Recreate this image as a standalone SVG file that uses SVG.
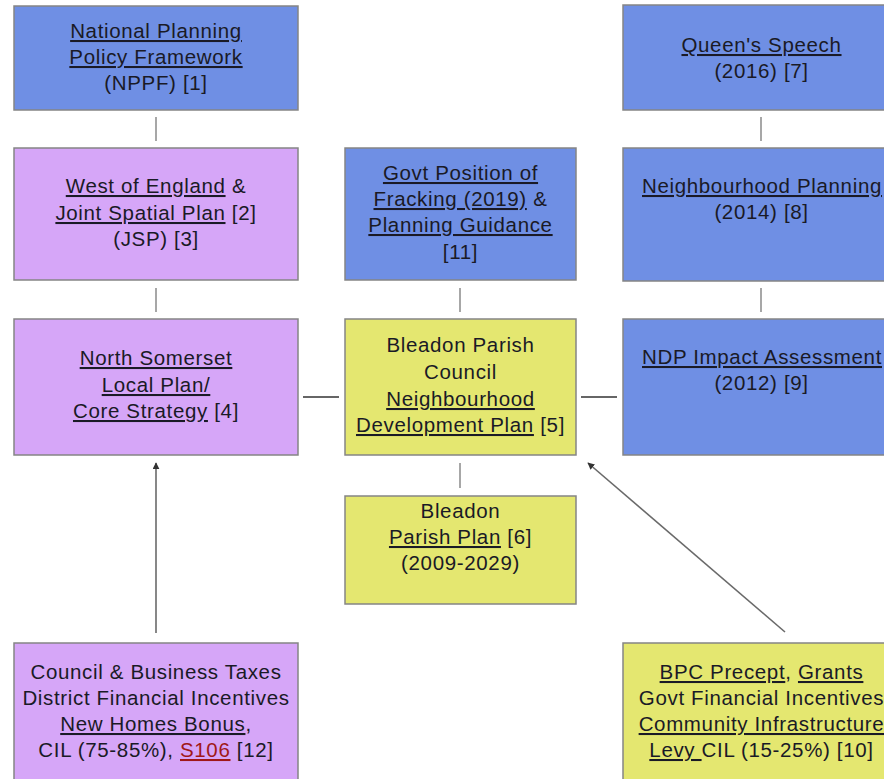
<svg xmlns="http://www.w3.org/2000/svg" width="884" height="779" viewBox="0 0 884 779">
<style>
.box{stroke:#858585;stroke-width:1.5}
.blue{fill:#6f8fe4}
.purple{fill:#d6a6f8}
.yellow{fill:#e4e770}
text{font-family:"Liberation Sans",Arial,sans-serif;font-size:20.5px;fill:#1a1a26;text-anchor:middle;letter-spacing:0.65px}
.u{text-decoration:underline}
.red{fill:#a01818}
.conn{stroke:#8a8a8a;stroke-width:1.5;fill:none}
.hconn{stroke:#333;stroke-width:1.5;fill:none}
.arrow{stroke:#6a6a6a;stroke-width:1.6;fill:none;marker-end:url(#ah)}
</style>
<defs>
<marker id="ah" viewBox="0 0 10 10" refX="9" refY="5" markerWidth="7" markerHeight="7" orient="auto" markerUnits="userSpaceOnUse">
<path d="M0,0 L10,5 L0,10 z" fill="#333"/>
</marker>
</defs>
<rect width="884" height="779" fill="#ffffff"/>
<g id="connectors">
<line class="conn" x1="156" y1="117" x2="156" y2="141"/>
<line class="conn" x1="156" y1="288" x2="156" y2="312"/>
<line class="conn" x1="460" y1="288" x2="460" y2="312"/>
<line class="conn" x1="460" y1="463" x2="460" y2="488"/>
<line class="conn" x1="761" y1="117" x2="761" y2="141"/>
<line class="conn" x1="761" y1="288" x2="761" y2="312"/>
<line class="hconn" x1="303" y1="397" x2="339" y2="397"/>
<line class="hconn" x1="581" y1="397" x2="617" y2="397"/>
<line class="arrow" x1="156" y1="633" x2="156" y2="463"/>
<line class="arrow" x1="785" y1="632" x2="588" y2="463"/>
</g>
<g id="nppf">
<rect class="box blue" x="14" y="6" width="284" height="104"/>
<text x="156" y="38"><tspan class="u">National Planning</tspan></text>
<text x="156" y="64"><tspan class="u">Policy Framework</tspan></text>
<text x="156" y="90">(NPPF) [1]</text>
</g>
<g id="west-of-england">
<rect class="box purple" x="14" y="148" width="284" height="132"/>
<text x="156" y="193"><tspan class="u">West of England</tspan> &amp;</text>
<text x="156" y="220"><tspan class="u">Joint Spatial Plan</tspan> [2]</text>
<text x="156" y="246">(JSP) [3]</text>
</g>
<g id="north-somerset">
<rect class="box purple" x="14" y="319" width="284" height="136"/>
<text x="156" y="365"><tspan class="u">North Somerset</tspan></text>
<text x="156" y="392"><tspan class="u">Local Plan/</tspan></text>
<text x="156" y="418"><tspan class="u">Core Strategy</tspan> [4]</text>
</g>
<g id="fracking">
<rect class="box blue" x="345" y="148" width="231" height="132"/>
<text x="460.5" y="180"><tspan class="u">Govt Position of</tspan></text>
<text x="460.5" y="206"><tspan class="u">Fracking (2019)</tspan> &amp;</text>
<text x="460.5" y="232"><tspan class="u">Planning Guidance</tspan></text>
<text x="460.5" y="259">[11]</text>
</g>
<g id="ndp">
<rect class="box yellow" x="345" y="319" width="231" height="136"/>
<text x="460.5" y="352">Bleadon Parish</text>
<text x="460.5" y="379">Council</text>
<text x="460.5" y="406"><tspan class="u">Neighbourhood</tspan></text>
<text x="460.5" y="432"><tspan class="u">Development Plan</tspan> [5]</text>
</g>
<g id="parish-plan">
<rect class="box yellow" x="345" y="496" width="231" height="108"/>
<text x="460.5" y="518">Bleadon</text>
<text x="460.5" y="544"><tspan class="u">Parish Plan</tspan> [6]</text>
<text x="460.5" y="570">(2009-2029)</text>
</g>
<g id="queens-speech">
<rect class="box blue" x="623" y="5" width="280" height="105"/>
<text x="761.5" y="52"><tspan class="u">Queen's Speech</tspan></text>
<text x="761.5" y="78">(2016) [7]</text>
</g>
<g id="neighbourhood-planning">
<rect class="box blue" x="623" y="148" width="280" height="133"/>
<text x="762" y="193"><tspan class="u">Neighbourhood Planning</tspan></text>
<text x="761.5" y="219">(2014) [8]</text>
</g>
<g id="ndp-impact">
<rect class="box blue" x="623" y="319" width="280" height="136"/>
<text x="762" y="364"><tspan class="u">NDP Impact Assessment</tspan></text>
<text x="761.5" y="390">(2012) [9]</text>
</g>
<g id="council-taxes">
<rect class="box purple" x="14" y="643" width="284" height="150"/>
<text x="156" y="679">Council &amp; Business Taxes</text>
<text x="156" y="705">District Financial Incentives</text>
<text x="156" y="731"><tspan class="u">New Homes Bonus</tspan>,</text>
<text x="156" y="757">CIL (75-85%), <tspan class="u red">S106</tspan> [12]</text>
</g>
<g id="bpc-precept">
<rect class="box yellow" x="623" y="643" width="280" height="150"/>
<text x="761.5" y="679"><tspan class="u">BPC Precept</tspan>, <tspan class="u">Grants</tspan></text>
<text x="761.5" y="705">Govt Financial Incentives</text>
<text x="761.5" y="731"><tspan class="u">Community Infrastructure</tspan></text>
<text x="761.5" y="757"><tspan class="u">Levy </tspan>CIL (15-25%) [10]</text>
</g>
</svg>
